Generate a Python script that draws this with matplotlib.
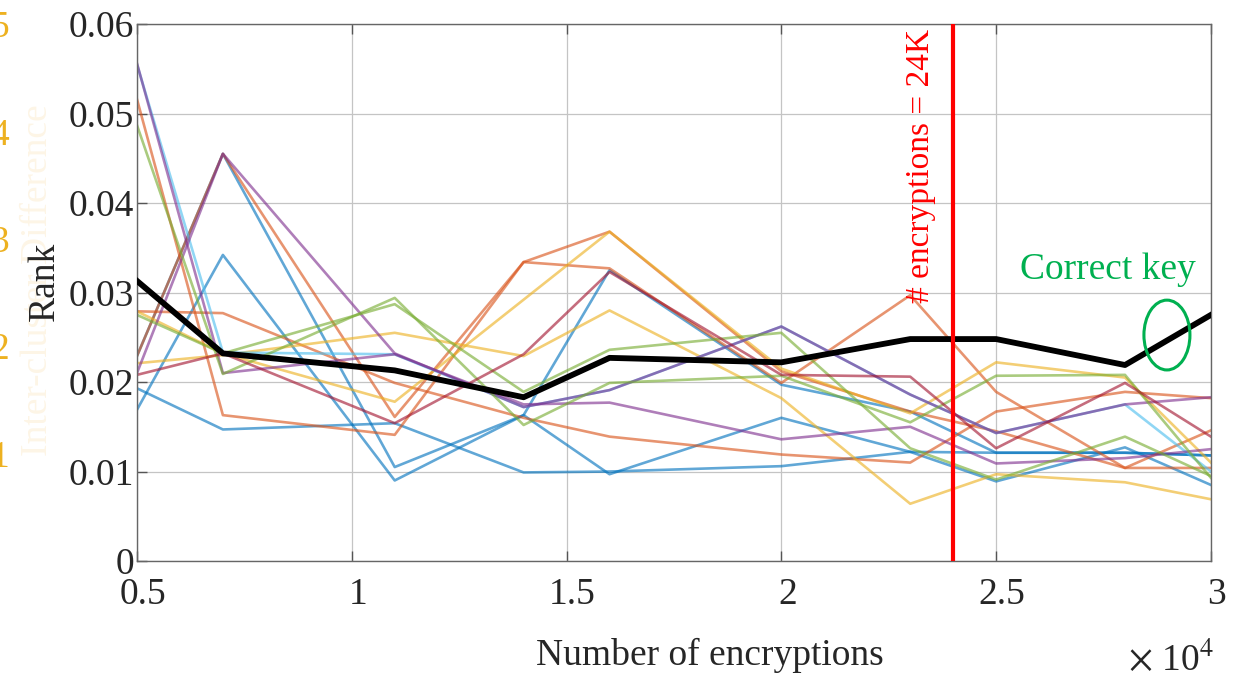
import matplotlib
matplotlib.use('Agg')
import matplotlib.pyplot as plt
from matplotlib.patches import Ellipse
from matplotlib.ticker import FuncFormatter
from matplotlib.transforms import ScaledTranslation

plt.rcParams['font.family'] = ['Liberation Serif', 'DejaVu Serif']
plt.rcParams['mathtext.fontset'] = 'stix'

# number of encryptions
encryptions = [5000, 7000, 11000, 14000, 16000, 20000, 23000, 25000, 28000, 30000]

# rank of the wrong key guesses (one line each)
blue1 = [0.0229, 0.0455, 0.0105, 0.0163, 0.0097, 0.0160, 0.0122, 0.0089, 0.0127, 0.0085]
blue2 = [0.0169, 0.0342, 0.0090, 0.0163, 0.0325, 0.0197, 0.0167, 0.0121, 0.0121, 0.0118]
blue3 = [0.0193, 0.0147, 0.0154, 0.0099, 0.0100, 0.0106, 0.0122, 0.0121, 0.0121, 0.0118]
orange1 = [0.0516, 0.0163, 0.0141, 0.0334, 0.0327, 0.0199, 0.0297, 0.0189, 0.0104, 0.0104]
orange2 = [0.0229, 0.0455, 0.0161, 0.0334, 0.0368, 0.0212, 0.0167, 0.0145, 0.0104, 0.0146]
orange3 = [0.0279, 0.0277, 0.0199, 0.0160, 0.0139, 0.0119, 0.0110, 0.0167, 0.0189, 0.0182]
yellow1 = [0.0279, 0.0232, 0.0178, 0.0292, 0.0368, 0.0215, 0.0165, 0.0222, 0.0205, 0.0110]
yellow2 = [0.0221, 0.0230, 0.0255, 0.0229, 0.0280, 0.0182, 0.0064, 0.0097, 0.0088, 0.0069]
purple1 = [0.0556, 0.0210, 0.0231, 0.0175, 0.0177, 0.0136, 0.0150, 0.0109, 0.0115, 0.0125]
purple2 = [0.0210, 0.0455, 0.0232, 0.0172, 0.0191, 0.0262, 0.0186, 0.0143, 0.0175, 0.0183]
green1 = [0.0487, 0.0209, 0.0294, 0.0152, 0.0199, 0.0207, 0.0155, 0.0207, 0.0208, 0.0093]
green2 = [0.0275, 0.0232, 0.0287, 0.0189, 0.0236, 0.0255, 0.0126, 0.0091, 0.0139, 0.0095]
lightblue = [0.0555, 0.0233, 0.0231, 0.0172, 0.0191, 0.0262, 0.0186, 0.0143, 0.0175, 0.0100]
darkred = [0.0208, 0.0232, 0.0154, 0.0231, 0.0323, 0.0208, 0.0206, 0.0126, 0.0199, 0.0139]

# rank of the correct key
correct = [0.0313, 0.0232, 0.0213, 0.0183, 0.0227, 0.0222, 0.0248, 0.0248, 0.0219, 0.0275]

threshold = 24000

mblue = (0.0, 0.447, 0.741)
morange = (0.85, 0.325, 0.098)
myellow = (0.929, 0.694, 0.125)
mpurple = (0.494, 0.184, 0.556)
mgreen = (0.466, 0.674, 0.188)
mlblue = (0.301, 0.745, 0.933)
mred = (0.635, 0.078, 0.184)

wrong = [(blue1, mblue), (blue2, mblue), (blue3, mblue),
         (orange1, morange), (orange2, morange), (orange3, morange),
         (yellow1, myellow), (yellow2, myellow),
         (lightblue, mlblue), (purple1, mpurple), (purple2, mpurple),
         (green1, mgreen), (green2, mgreen), (darkred, mred)]

fig = plt.figure(figsize=(12.34, 6.77), dpi=100)
ax = fig.add_axes([0.111, 0.1713, 0.8703, 0.7932])

for vals, col in wrong:
    ax.plot(encryptions, vals, color=col, alpha=0.62, lw=1.9, zorder=2)
ax.plot(encryptions, correct, color='black', lw=4.2, zorder=3)
ax.axvline(threshold, color='red', lw=3, zorder=4)

ax.text(23250, 0.0595, '# encryptions = 24K', color='red', rotation=90,
        ha='center', va='top', fontsize=24, zorder=5)
ax.text(27600, 0.0325, 'Correct key', color='#00B050', ha='center',
        va='center', fontsize=27, zorder=5)
ax.add_patch(Ellipse((28976, 0.02525), 1071, 0.0078, fill=False,
                     edgecolor='#00B050', lw=2.2, zorder=5))

ax.set_xlim(5000, 30000)
ax.set_ylim(0, 0.06)
ax.set_xticks([5000, 10000, 15000, 20000, 25000, 30000])
ax.xaxis.set_major_formatter(FuncFormatter(lambda v, p: '%g' % (v / 1e4)))
ax.set_yticks([0, 0.01, 0.02, 0.03, 0.04, 0.05, 0.06])
ax.yaxis.set_major_formatter(FuncFormatter(lambda v, p: '0' if v == 0 else '%.2f' % v))
ax.tick_params(direction='in', top=True, right=True, length=7, width=1,
               labelsize=27, colors='#555555', labelcolor='#262626')
ax.tick_params(axis='y', pad=2)
ax.tick_params(axis='x', pad=12)
shift = ScaledTranslation(6 / 100, 0, fig.dpi_scale_trans)
for lab in ax.get_xticklabels():
    lab.set_transform(lab.get_transform() + shift)
ax.grid(True, color='#C4C4C4', lw=0.9)
for s in ax.spines.values():
    s.set_color('#666666')
    s.set_linewidth(1)

ax.set_xlabel('Number of encryptions', fontsize=27, color='#262626')
ax.xaxis.set_label_coords(0.533, -0.143)
ax.set_ylabel('Rank', fontsize=27, color='#262626')
ax.yaxis.set_label_coords(-0.070, 0.52)
ax.text(1.003, -0.184, r'$\times$ 10$^{4}$', transform=ax.transAxes, ha='right',
        va='center', fontsize=27, color='#262626')

# faint secondary axis on the left, mostly off the figure
ax2 = ax.twinx()
ax2.set_ylim(0, 5)
ax2.set_yticks([1, 2, 3, 4, 5])
ax2.yaxis.set_ticks_position('left')
ax2.yaxis.set_label_position('left')
ax2.spines['left'].set_position(('outward', 92))
for s in ax2.spines.values():
    s.set_visible(False)
ax2.tick_params(axis='y', length=0, pad=0, labelsize=27, labelcolor='#EDB120')
ax2.set_ylabel('Inter-cluster Difference', fontsize=27, color='#FDF5E6')
ax2.yaxis.set_label_coords(-0.076, 0.523)
ax2.set_zorder(-1)

fig.savefig('out.png', dpi=100)
